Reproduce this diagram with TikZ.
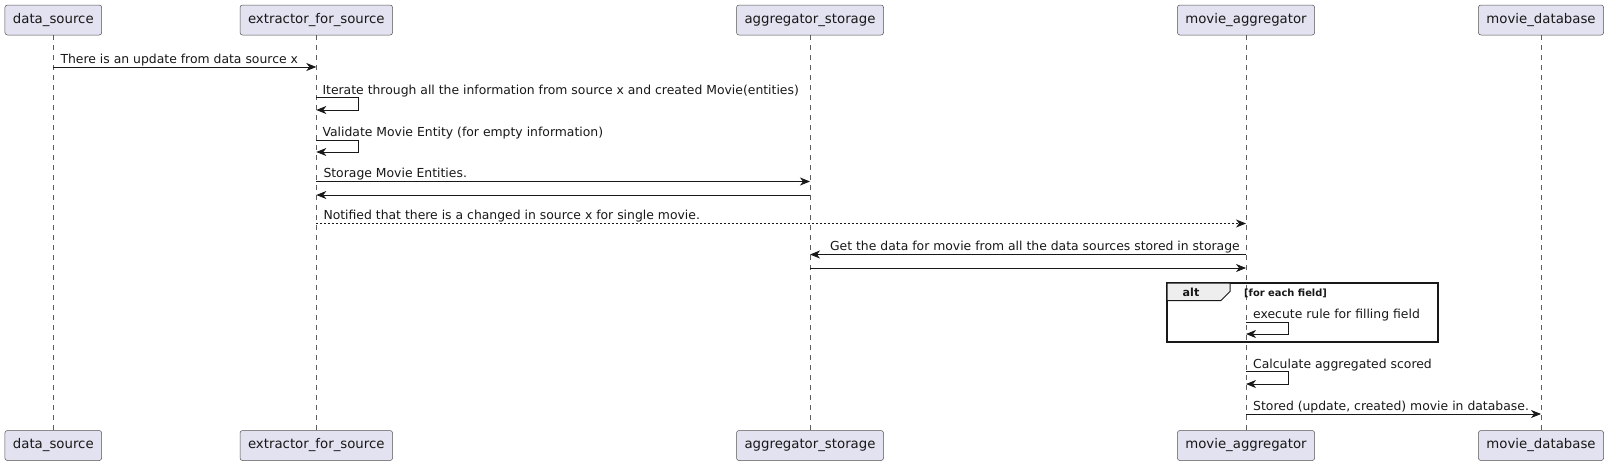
\documentclass[tikz,border=0pt]{standalone}
\usepackage{fontspec}
\setmainfont{DejaVu Sans}
\usetikzlibrary{arrows.meta}
\definecolor{partfill}{HTML}{E2E2F0}
\definecolor{ink}{HTML}{181818}
\definecolor{tabfill}{HTML}{EEEEEE}
\tikzset{
  part/.style={draw=ink!75, fill=partfill, rounded corners=2.5pt, line width=0.5pt,
    minimum height=30pt, inner xsep=8pt, inner ysep=0pt,
    font=\fontsize{13.3}{15}\selectfont, text=ink},
  lifeline/.style={draw=ink!70, line width=0.5pt, dash pattern=on 5pt off 5pt},
  msg/.style={draw=ink, line width=0.8pt, -{Stealth[length=10pt,width=8pt,inset=3pt]}},
  dotmsg/.style={msg, dash pattern=on 2pt off 2pt},
  lbl/.style={inner sep=0pt, font=\fontsize{12.4}{14}\selectfont, text=ink},
  altlbl/.style={inner sep=0pt, font=\bfseries\fontsize{11.1}{13}\selectfont, text=ink},
  condlbl/.style={inner sep=0pt, font=\bfseries\fontsize{9.9}{12}\selectfont, text=ink},
}
\begin{document}
\begin{tikzpicture}[x=1pt,y=-1pt]
\useasboundingbox (0,0) rectangle (1608,466);
% participants
\node[part] (ds)  at (53.3,20) {data\_source};
\node[part] (ex)  at (316.3,20) {extractor\_for\_source};
\node[part] (as)  at (810,20) {aggregator\_storage};
\node[part] (ma)  at (1246,20) {movie\_aggregator};
\node[part] (md)  at (1541,20) {movie\_database};
\node[part] (dsb) at (53.3,445.5) {data\_source};
\node[part] (exb) at (316.3,445.5) {extractor\_for\_source};
\node[part] (asb) at (810,445.5) {aggregator\_storage};
\node[part] (mab) at (1246,445.5) {movie\_aggregator};
\node[part] (mdb) at (1541,445.5) {movie\_database};
% lifelines
\draw[lifeline] (ds) -- (dsb);
\draw[lifeline] (ex) -- (exb);
\draw[lifeline] (as) -- (asb);
\draw[lifeline] (ma) -- (mab);
\draw[lifeline] (md) -- (mdb);
% y levels
\coordinate (y1) at (0,67);
\coordinate (s1t) at (0,97.5); \coordinate (s1b) at (0,110);
\coordinate (s2t) at (0,140);  \coordinate (s2b) at (0,152);
\coordinate (y4) at (0,181.5);
\coordinate (y5) at (0,195);
\coordinate (y6) at (0,223.5);
\coordinate (y7) at (0,254.5);
\coordinate (y8) at (0,268);
\coordinate (s3t) at (0,322);  \coordinate (s3b) at (0,334);
\coordinate (s4t) at (0,371.5); \coordinate (s4b) at (0,384);
\coordinate (y12) at (0,414);
% alt frame
\draw[ink, line width=1.5pt] (1167,283) rectangle (1438,342);
\filldraw[fill=tabfill, draw=ink, line width=1pt] (1167,283) -- (1230,283) -- (1230,291.5) -- (1221,300.5) -- (1167,300.5) -- cycle;
\node[altlbl, anchor=base] (altl) at (1191,296) {alt};
\node[condlbl, anchor=base west] (cond) at (1244,296) {[for each field]};
% messages
\draw[msg] (ds |- y1) -- (ex |- y1);
\node[lbl, anchor=base west] (l1) at ([xshift=7pt,yshift=4pt]ds |- y1) {There is an update from data source x};

\draw[msg] (ex |- s1t) -- ++(42,0) |- (ex |- s1b);
\node[lbl, anchor=base west] (l2) at ([xshift=6pt,yshift=3.5pt]ex |- s1t) {Iterate through all the information from source x and created Movie(entities)};

\draw[msg] (ex |- s2t) -- ++(42,0) |- (ex |- s2b);
\node[lbl, anchor=base west] (l3) at ([xshift=6pt,yshift=3.5pt]ex |- s2t) {Validate Movie Entity (for empty information)};

\draw[msg] (ex |- y4) -- (as |- y4);
\node[lbl, anchor=base west] (l4) at ([xshift=7pt,yshift=4pt]ex |- y4) {Storage Movie Entities.};

\draw[msg] (as |- y5) -- (ex |- y5);

\draw[dotmsg] (ex |- y6) -- (ma |- y6);
\node[lbl, anchor=base west] (l6) at ([xshift=7pt,yshift=4pt]ex |- y6) {Notified that there is a changed in source x for single movie.};

\draw[msg] (ma |- y7) -- (as |- y7);
\node[lbl, anchor=base east] (l7) at ([xshift=-6pt,yshift=4pt]ma |- y7) {Get the data for movie from all the data sources stored in storage};

\draw[msg] (as |- y8) -- (ma |- y8);

\draw[msg] (ma |- s3t) -- ++(42,0) |- (ma |- s3b);
\node[lbl, anchor=base west] (l10) at ([xshift=7pt,yshift=3.5pt]ma |- s3t) {execute rule for filling field};

\draw[msg] (ma |- s4t) -- ++(42,0) |- (ma |- s4b);
\node[lbl, anchor=base west] (l11) at ([xshift=7pt,yshift=3.5pt]ma |- s4t) {Calculate aggregated scored};

\draw[msg] (ma |- y12) -- (md |- y12);
\node[lbl, anchor=base west] (l12) at ([xshift=7pt,yshift=4pt]ma |- y12) {Stored (update, created) movie in database.};
\end{tikzpicture}
\end{document}
